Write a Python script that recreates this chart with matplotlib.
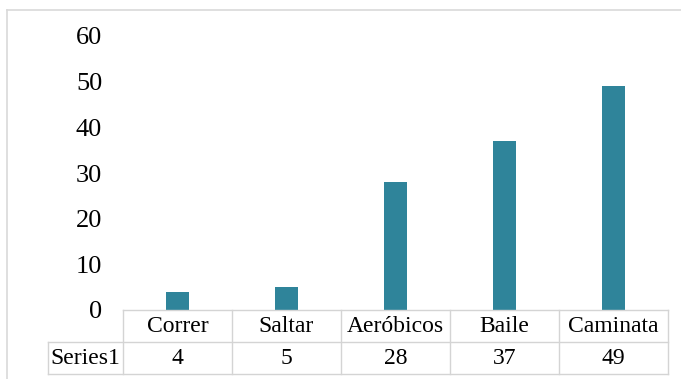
import matplotlib.pyplot as plt
from matplotlib.lines import Line2D

categories = ["Correr", "Saltar", "Aeróbicos", "Baile", "Caminata"]
values = [4, 5, 28, 37, 49]
series_name = "Series1"
yticks = [0, 10, 20, 30, 40, 50, 60]

W, H = 681, 379
plt.rcParams['font.family'] = ['Liberation Serif', 'DejaVu Serif']

fig = plt.figure(figsize=(W / 100, H / 100), dpi=100)

# plot area (pixel positions)
left, right, base, top = 123, 668, 310, 36
ax = fig.add_axes([left / W, (H - base) / H, (right - left) / W, (base - top) / H])
x = range(len(categories))
ax.bar(x, values, width=0.22, color='#2F849A')
ax.set_xlim(-0.5, len(categories) - 0.5)
ax.set_ylim(0, 60)
ax.set_yticks(yticks)
ax.set_xticks([])
ax.tick_params(axis='y', length=0, pad=15, labelsize=19)
for s in ax.spines.values():
    s.set_visible(False)

# data table below the plot area
grid = '#D4D4D4'
tb = 374
tax = fig.add_axes([left / W, (H - tb) / H, (right - left) / W, (tb - base) / H])
tax.set_xlim(-0.5, len(categories) - 0.5)
tax.set_ylim(0, 2)
tax.axis('off')
label_left = -0.5 - (left - 48) / ((right - left) / len(categories))

tax.plot([-0.5, len(categories) - 0.5], [2, 2], color=grid, lw=1, clip_on=False)
for yy in (0, 1):
    tax.plot([label_left, len(categories) - 0.5], [yy, yy], color=grid, lw=1, clip_on=False)
for k in range(len(categories) + 1):
    tax.plot([k - 0.5, k - 0.5], [0, 2], color=grid, lw=1, clip_on=False)
tax.plot([label_left, label_left], [0, 1], color=grid, lw=1, clip_on=False)

for i, (c, v) in enumerate(zip(categories, values)):
    tax.text(i, 1.5, c, ha='center', va='center', fontsize=17)
    tax.text(i, 0.5, str(v), ha='center', va='center', fontsize=17)
tax.text((label_left - 0.5) / 2, 0.5, series_name, ha='center', va='center', fontsize=17)

# chart frame
fig.add_artist(Line2D([7 / W, 1], [1 - 9.5 / H] * 2, color='#D9D9D9', lw=1.2))
fig.add_artist(Line2D([7 / W] * 2, [0, 1 - 9.5 / H], color='#D9D9D9', lw=1.2))

fig.savefig('out.png', dpi=100)
